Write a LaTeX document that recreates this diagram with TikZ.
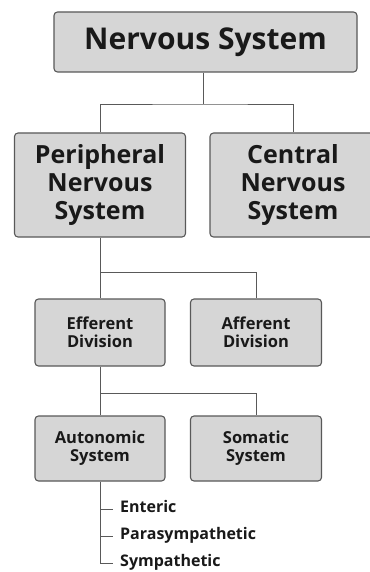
\documentclass[tikz,border=0pt]{standalone}
\usepackage{fontspec}
\setmainfont{Open Sans}
\begin{document}
\begin{tikzpicture}[x=1pt,y=-1pt,
  box/.style={draw=black!65, line width=1.1pt, fill=black!16, rounded corners=3.5pt, align=center, inner sep=0pt, font=\bfseries, text=black!90},
  conn/.style={draw=black!65, line width=0.9pt},
  item/.style={anchor=west, inner sep=0pt, font=\fontsize{16}{18}\bfseries\selectfont, text=black!90, text height=0.72em, text depth=0pt}]
\useasboundingbox (0,0) rectangle (369,572);
\fill[white] (0,0) rectangle (369,572);
\node[box, minimum width=303, minimum height=60, font=\fontsize{30}{34}\bfseries\selectfont] (top) at (205.5,42) {Nervous System};
\node[box, minimum width=171, minimum height=104, font=\fontsize{25}{28}\bfseries\selectfont] (pns) at (100,185) {Peripheral\\Nervous\\System};
\node[box, minimum width=166, minimum height=104, font=\fontsize{25}{28}\bfseries\selectfont] (cns) at (293,185) {Central\\Nervous\\System};
\node[box, minimum width=130, minimum height=67, font=\fontsize{16.5}{18}\bfseries\selectfont] (eff) at (100,332.5) {Efferent\\Division};
\node[box, minimum width=131, minimum height=67, font=\fontsize{16.5}{18}\bfseries\selectfont] (aff) at (256,332.5) {Afferent\\Division};
\node[box, minimum width=130, minimum height=65, font=\fontsize{16.5}{18}\bfseries\selectfont] (aut) at (100,448.5) {Autonomic\\System};
\node[box, minimum width=131, minimum height=65, font=\fontsize{16.5}{18}\bfseries\selectfont] (som) at (256,448.5) {Somatic\\System};
\coordinate (j1) at (203,104);
\coordinate (j2) at (100,272);
\coordinate (j3) at (100,393);
\draw[conn] ([xshift=-2.5pt]top.south) -- (j1);
\draw[conn] (pns.north) |- (j1) -| (cns.north);
\draw[conn] (pns.south) -- (j2) -| (aff.north);
\draw[conn] (j2) -- (eff.north);
\draw[conn] (eff.south) -- (j3) -| (som.north);
\draw[conn] (j3) -- (aut.north);
\coordinate (t1) at (100,509);
\coordinate (t2) at (100,536);
\coordinate (t3) at (100,563);
\node[item] (ent) at (120,509) {Enteric};
\node[item] (para) at (120,536) {Parasympathetic};
\node[item] (sym) at (120,563) {Sympathetic};
\draw[conn] (aut.south) -- (t3) -- ([xshift=-7pt]sym.west);
\draw[conn] (t1) -- ([xshift=-7pt]ent.west);
\draw[conn] (t2) -- ([xshift=-7pt]para.west);
\end{tikzpicture}
\end{document}
